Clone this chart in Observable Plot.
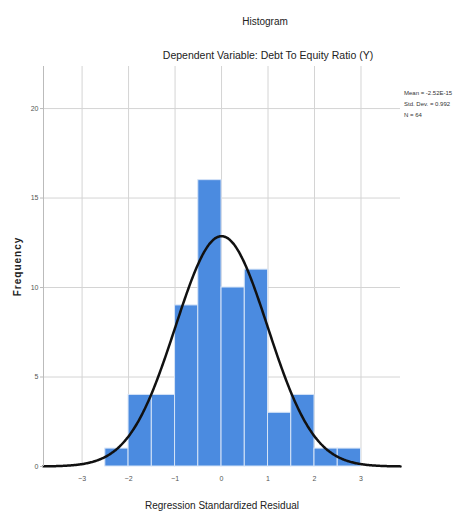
<!DOCTYPE html>
<html>
<head>
<meta charset="utf-8">
<script src="https://cdn.jsdelivr.net/npm/d3@7"></script>
<script src="https://cdn.jsdelivr.net/npm/@observablehq/plot@0.6"></script>
<style>
  body { margin: 0; background: #fff; }
  #wrap { position: relative; width: 459px; height: 517px; overflow: hidden; font-family: "Liberation Sans Narrow", "Arial Narrow", "Liberation Sans", Arial, sans-serif; }
  .t { position: absolute; color: #222; white-space: nowrap; }
  #title { left: 0; width: 530px; top: 16px; text-align: center; font-size: 10px; }
  #subtitle { left: 0; width: 536px; top: 49px; text-align: center; font-size: 10.5px; }
  #stats { left: 404px; top: 88px; font-size: 6px; line-height: 11px; color: #333; }
</style>
</head>
<body>
<div id="wrap">
  <div id="chart"></div>
  <div class="t" id="title">Histogram</div>
  <div class="t" id="subtitle">Dependent Variable: Debt To Equity Ratio (Y)</div>
  <div class="t" id="stats"></div>
</div>
<script>
// Data
const binStarts = [-2.5, -2.0, -1.5, -1.0, -0.5, 0.0, 0.5, 1.0, 1.5, 2.0, 2.5];
const binWidth = 0.5;
const counts = [1, 4, 4, 9, 16, 10, 11, 3, 4, 1, 1];
const xTicks = [-3, -2, -1, 0, 1, 2, 3];
const yTicks = [0, 5, 10, 15, 20];
const statLabels = ["Mean = -2.52E-15", "Std. Dev. = 0.992", "N = 64"];
const mean = -2.52e-15;
const sd = 0.992;
const n = 64;

document.getElementById("stats").innerHTML = statLabels.join("<br>");

const bins = binStarts.map((s, i) => ({x1: s, x2: s + binWidth, count: counts[i]}));

// Fitted normal curve from the reported statistics (as SPSS draws it)
const xDomain = [-3.83, 3.85];
const curve = d3.range(xDomain[0], xDomain[1] + 0.001, 0.02).map(x => ({
  x,
  y: n * binWidth / (sd * Math.sqrt(2 * Math.PI)) * Math.exp(-0.5 * ((x - mean) / sd) ** 2)
}));

const chart = Plot.plot({
  width: 459,
  height: 517,
  marginLeft: 43,
  marginRight: 59,
  marginTop: 66,
  marginBottom: 51,
  style: {fontFamily: '"Liberation Sans Narrow", "Arial Narrow", "Liberation Sans", Arial, sans-serif', fontSize: "7px", background: "#fff"},
  x: {domain: xDomain},
  y: {domain: [0, 22.35]},
  marks: [
    Plot.gridX(xTicks, {stroke: "#d4d4d4", strokeOpacity: 1, strokeWidth: 1}),
    Plot.gridY(yTicks.filter(d => d > 0), {stroke: "#d4d4d4", strokeOpacity: 1, strokeWidth: 1}),
    Plot.rectY(bins, {x1: "x1", x2: "x2", y: "count", fill: "#4b8be0", stroke: "#d6e4f7", strokeWidth: 1}),
    Plot.line(curve, {x: "x", y: "y", stroke: "#111", strokeWidth: 2.5, curve: "basis"}),
    Plot.axisX({ticks: xTicks, tickSize: 0, tickPadding: 10, fill: "#555",
      label: "Regression Standardized Residual", labelAnchor: "center", labelArrow: "none", labelOffset: 42}),
    Plot.axisY({ticks: yTicks, tickSize: 3, tickPadding: 2, fill: "#555", stroke: "#bbb",
      label: "Frequency", labelAnchor: "center", labelArrow: "none", labelOffset: 30}),
    Plot.ruleX([xDomain[0]], {stroke: "#bbb"})
  ]
});
document.getElementById("chart").appendChild(chart);

// style axis labels
chart.querySelectorAll("g[aria-label='x-axis label'] text, g[aria-label='y-axis label'] text").forEach(t => {
  t.style.fontSize = "10px";
  t.style.fill = "#222";
});
const yl = chart.querySelector("g[aria-label='y-axis label'] text");
if (yl) { yl.style.fontWeight = "bold"; yl.style.letterSpacing = "1px"; }
</script>
</body>
</html>
